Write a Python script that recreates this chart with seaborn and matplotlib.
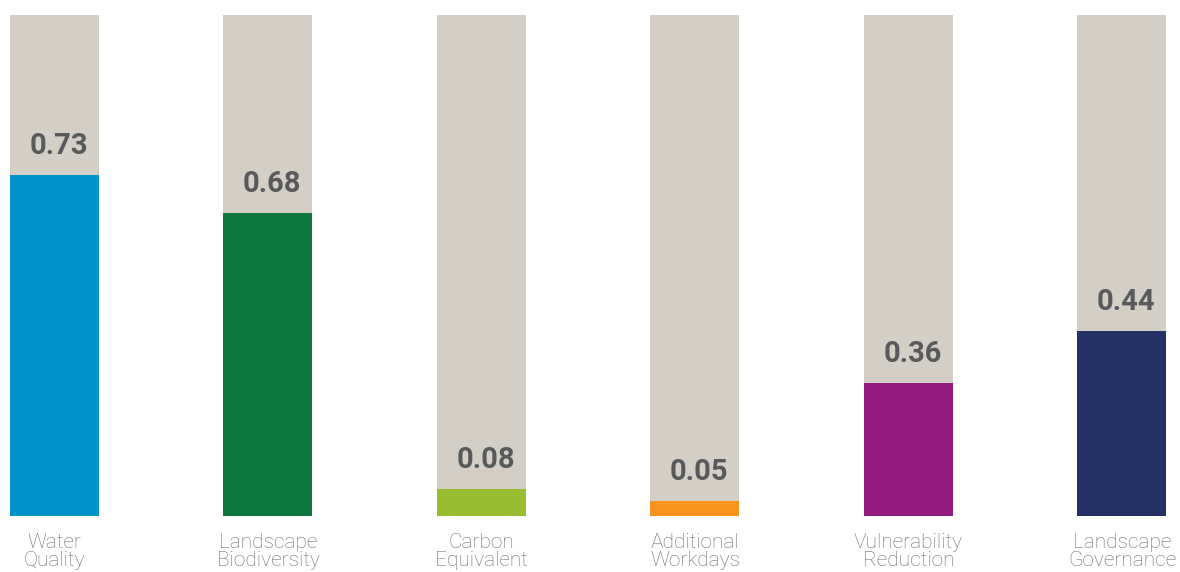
import matplotlib
matplotlib.use("Agg")
import pandas as pd
from matplotlib import pyplot as plt
import seaborn as sns

categories = ["Water\nQuality", "Landscape\nBiodiversity", "Carbon\nEquivalent",
              "Additional\nWorkdays", "Vulnerability\nReduction", "Landscape\nGovernance"]
value_labels = ["0.73", "0.68", "0.08", "0.05", "0.36", "0.44"]
# bar heights as drawn in the picture, as a share of the grey track
drawn_height = [0.681, 0.605, 0.054, 0.030, 0.265, 0.369]
track = [1.0, 1.0, 1.0, 1.0, 1.0, 1.0]
colors = ["#0093C7", "#0E773E", "#98BD31", "#F7941E", "#931B7E", "#233165"]

df = pd.DataFrame({"category": categories, "height": drawn_height,
                   "track": track, "label": value_labels})

sns.set_theme(style="white")
plt.rcParams["font.family"] = ["Roboto", "DejaVu Sans"]

fig = plt.figure(figsize=(11.8, 5.72), dpi=100)
ax = fig.add_axes([0, 56 / 572, 1, 501 / 572])

sns.barplot(data=df, x="category", y="track", color="#D3CFC7", width=0.417,
            saturation=1, linewidth=0, ax=ax)
sns.barplot(data=df, x="category", y="height", hue="category", palette=colors,
            width=0.417, saturation=1, linewidth=0, legend=False, ax=ax)

for i, row in df.iterrows():
    ax.text(i + 0.02, row["height"] + 0.03, row["label"], ha="center", va="bottom",
            fontsize=21, fontweight="bold", color="#58595B")

ax.set_xlim(-0.255, 5.272)
ax.set_ylim(0, 1)
ax.set_xlabel("")
ax.set_ylabel("")
ax.set_yticks([])
ax.tick_params(axis="x", length=0, pad=12)
for t in ax.get_xticklabels():
    t.set_fontsize(15)
    t.set_fontweight("light")
    t.set_color("#6D6E71")
    t.set_linespacing(0.95)
sns.despine(ax=ax, left=True, bottom=True)

fig.savefig("out.png", dpi=100)
